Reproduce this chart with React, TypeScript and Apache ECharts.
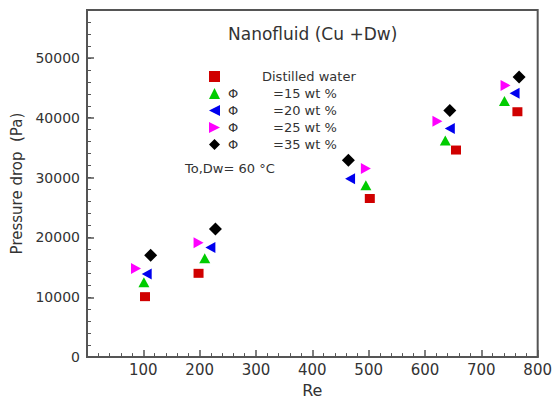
import React, { useEffect, useRef } from "react";
import * as echarts from "echarts";

// Reynolds number and pressure drop (Pa) for each fluid
const seriesNames = ["Distilled water", "=15 wt %", "=20 wt %", "=25 wt %", "=35 wt %"];

const reDw = [103, 198, 502, 655, 764];
const pDw = [10100, 14000, 26500, 34600, 41000];

const re15 = [101, 209, 495, 636, 741];
const p15 = [12500, 16500, 28700, 36200, 42800];

const re20 = [106, 219, 467, 644, 759];
const p20 = [13900, 18300, 29800, 38200, 44100];

const re25 = [87, 198, 495, 622, 743];
const p25 = [14800, 19100, 31500, 39400, 45400];

const re35 = [113, 228, 464, 644, 767];
const p35 = [17000, 21400, 32900, 41200, 46800];

const xTickLabels = ["100", "200", "300", "400", "500", "600", "700", "800"];
const yTickLabels = ["0", "10000", "20000", "30000", "40000", "50000"];

const FONT = "DejaVu Sans";
const AXIS = "#555";
const TEXT = "#333";

// Legend icons: rotated triangles are given as explicit paths
const ICON_LEFT = "path://M0,5L10,0L10,10Z";
const ICON_RIGHT = "path://M0,0L10,5L0,10Z";

const zip = (xs: number[], ys: number[]) => xs.map((x, i) => [x, ys[i]]);

export default function App() {
  const ref = useRef<HTMLDivElement>(null);

  useEffect(() => {
    if (!ref.current) return;
    const chart = echarts.init(ref.current, null, { renderer: "svg" });

    const markers = [
      { data: zip(reDw, pDw), symbol: "rect", size: [10, 9], rotate: 0, color: "#d00000", icon: "rect" },
      { data: zip(re15, p15), symbol: "triangle", size: [11, 10], rotate: 0, color: "#00cc00", icon: "triangle" },
      { data: zip(re20, p20), symbol: "triangle", size: [11, 10], rotate: 90, color: "#0000ee", icon: ICON_LEFT },
      { data: zip(re25, p25), symbol: "triangle", size: [11, 10], rotate: -90, color: "#ff00ff", icon: ICON_RIGHT },
      { data: zip(re35, p35), symbol: "diamond", size: [13, 13], rotate: 0, color: "#000000", icon: "diamond" },
    ];

    const richBase = { fontFamily: FONT, fontSize: 13, color: TEXT, lineHeight: 13 };

    chart.setOption({
      animation: false,
      backgroundColor: "#ffffff",
      title: {
        text: "Nanofluid (Cu +Dw)",
        left: 223,
        top: 20,
        textStyle: { fontFamily: FONT, fontSize: 17, fontWeight: "normal", color: TEXT },
      },
      legend: {
        orient: "vertical",
        left: 204,
        top: 65,
        itemWidth: 11,
        itemHeight: 11,
        itemGap: 4,
        data: seriesNames.map((name, i) => ({
          name,
          icon: markers[i].icon,
          itemStyle: { color: markers[i].color },
        })),
        formatter: (name: string) =>
          name === seriesNames[0] ? `{dw|${name}}` : `{phi|Φ}{val|${name}}`,
        textStyle: {
          ...richBase,
          rich: {
            dw: { ...richBase, padding: [0, 0, 0, 37] },
            phi: { ...richBase, width: 45, padding: [0, 0, 0, 3] },
            val: { ...richBase },
          },
        },
      },
      grid: {
        left: 87,
        right: 6,
        top: 10,
        bottom: 40,
        show: true,
        borderColor: AXIS,
        borderWidth: 2,
        backgroundColor: "transparent",
      },
      xAxis: {
        type: "value",
        min: 0,
        max: 800,
        interval: 100,
        name: "Re",
        nameLocation: "middle",
        nameGap: 22,
        nameTextStyle: { fontFamily: FONT, fontSize: 16, color: TEXT },
        axisLine: { show: true, lineStyle: { color: AXIS, width: 2 } },
        axisTick: { show: true, inside: true, length: 7, lineStyle: { color: AXIS, width: 1.5 } },
        minorTick: { show: true, splitNumber: 5, length: 4, lineStyle: { color: AXIS, width: 1 } },
        splitLine: { show: false },
        axisLabel: {
          margin: 5,
          fontFamily: FONT,
          fontSize: 15,
          color: TEXT,
          formatter: (v: number) => (xTickLabels.includes(String(v)) ? String(v) : ""),
        },
      },
      yAxis: [
        {
          type: "value",
          min: 0,
          max: 58000,
          interval: 2000,
          name: "Pressure drop  (Pa)",
          nameLocation: "middle",
          nameGap: 56,
          nameTextStyle: { fontFamily: FONT, fontSize: 15, color: TEXT },
          axisLine: { show: true, lineStyle: { color: AXIS, width: 2 } },
          axisTick: { show: true, inside: true, length: 4, lineStyle: { color: AXIS, width: 1 } },
          splitLine: { show: false },
          axisLabel: {
            margin: 7,
            fontFamily: FONT,
            fontSize: 14,
            color: TEXT,
            formatter: (v: number) => (yTickLabels.includes(String(v)) ? String(v) : ""),
          },
        },
        {
          type: "value",
          min: 0,
          max: 58000,
          interval: 10000,
          position: "left",
          offset: 0,
          axisLine: { show: false },
          axisTick: { show: true, inside: true, length: 7, lineStyle: { color: AXIS, width: 1.5 } },
          axisLabel: { show: false },
          splitLine: { show: false },
        },
      ],
      graphic: [
        {
          type: "text",
          x: 185,
          y: 168,
          style: {
            text: "To,Dw= 60 °C",
            fontFamily: FONT,
            fontSize: 13,
            fill: TEXT,
            verticalAlign: "middle",
          },
        },
      ],
      series: markers.map((m, i) => ({
        name: seriesNames[i],
        type: "scatter",
        xAxisIndex: 0,
        yAxisIndex: 0,
        data: m.data,
        symbol: m.symbol,
        symbolSize: m.size,
        symbolRotate: m.rotate,
        itemStyle: { color: m.color, opacity: 1 },
      })),
    });

    return () => chart.dispose();
  }, []);

  return (
    <div
      ref={ref}
      style={{ position: "absolute", left: 0, top: 0, width: 555, height: 403, background: "#fff" }}
    />
  );
}
